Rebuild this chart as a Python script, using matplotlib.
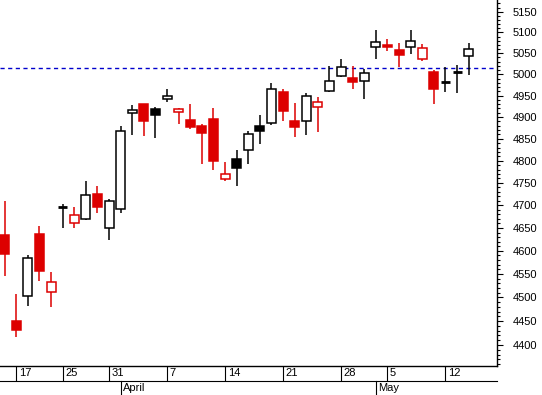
import matplotlib.pyplot as plt
import numpy as np
import pandas as pd
from matplotlib.ticker import NullFormatter

# daily sessions (Mar 14 - May 14)
dates = ['2008-03-14', '2008-03-17', '2008-03-18', '2008-03-19', '2008-03-20',
         '2008-03-25', '2008-03-26', '2008-03-27', '2008-03-28', '2008-03-31',
         '2008-04-01', '2008-04-02', '2008-04-03', '2008-04-04', '2008-04-07',
         '2008-04-08', '2008-04-09', '2008-04-10', '2008-04-11', '2008-04-14',
         '2008-04-15', '2008-04-16', '2008-04-17', '2008-04-18', '2008-04-21',
         '2008-04-22', '2008-04-23', '2008-04-24', '2008-04-25', '2008-04-28',
         '2008-04-29', '2008-04-30', '2008-05-02', '2008-05-05', '2008-05-06',
         '2008-05-07', '2008-05-08', '2008-05-09', '2008-05-12', '2008-05-13',
         '2008-05-14']
opens = [4635, 4450, 4502, 4637, 4511, 4696, 4660, 4669, 4726, 4651,
         4691, 4910, 4930, 4919, 4941, 4912, 4893, 4879, 4896, 4758,
         4804, 4824, 4879, 4886, 4958, 4890, 4892, 4923, 4961, 4995,
         4991, 4983, 5064, 5070, 5058, 5064, 5036, 5005, 4982, 5006, 5043]
highs = [4710, 4507, 4592, 4654, 4554, 4703, 4697, 4755, 4743, 4714,
         4879, 4928, 4930, 4924, 4965, 4920, 4930, 4884, 4921, 4797,
         4824, 4868, 4905, 4980, 4965, 4933, 4955, 4947, 5020, 5036,
         5020, 5012, 5106, 5084, 5074, 5106, 5072, 5010, 5018, 5023, 5074]
lows = [4546, 4417, 4482, 4536, 4480, 4651, 4651, 4668, 4684, 4624,
        4684, 4859, 4857, 4852, 4934, 4883, 4873, 4793, 4780, 4755,
        4744, 4793, 4837, 4882, 4890, 4855, 4858, 4866, 4959, 4993,
        4965, 4941, 5036, 5056, 5017, 5049, 5032, 4931, 4959, 4957, 4999]
closes = [4594, 4432, 4584, 4557, 4533, 4696, 4679, 4722, 4697, 4709,
          4869, 4916, 4892, 4905, 4950, 4919, 4878, 4864, 4800, 4769,
          4784, 4860, 4867, 4965, 4915, 4876, 4948, 4934, 4983, 5018,
          4982, 5002, 5076, 5066, 5046, 5080, 5062, 4966, 4982, 5006, 5061]
prev_close = 4660
ref_level = 5016

y_major = list(range(4400, 5151, 50))
y_minor = list(range(4360, 5180, 10))
day_ticks = ['2008-03-17', '2008-03-25', '2008-03-31', '2008-04-07', '2008-04-14',
             '2008-04-21', '2008-04-28', '2008-05-05', '2008-05-12']
day_labels = ['17', '25', '31', '7', '14', '21', '28', '5', '12']
month_ticks = ['2008-04-01', '2008-05-02']
month_labels = ['April', 'May']

RED = '#dd0000'
plt.rcParams['font.family'] = ['Liberation Sans', 'DejaVu Sans']

fig = plt.figure(figsize=(5.42, 3.95), dpi=100)
H = 366 / 395
ax = fig.add_axes([0, 1 - H, 497 / 542, H])
ax.set_yscale('log')

idx = pd.Index(dates)
x = np.arange(len(dates))
pc = [prev_close] + closes[:-1]
w = 0.78

for i in x:
    o, h, l, c = opens[i], highs[i], lows[i], closes[i]
    col = RED if c < pc[i] else 'black'
    ax.vlines(i, l, h, color=col, lw=1.1, zorder=2)
    if c == o:
        ax.hlines(c, i - w / 2, i + w / 2, color=col, lw=2, zorder=3)
    else:
        face = col if c < o else 'white'
        ax.bar(i, abs(c - o), bottom=min(o, c), width=w, color=face,
               edgecolor=col, linewidth=1.1, zorder=3)

ax.axhline(ref_level, color='#0000cc', lw=1, ls=(0, (3, 2.5)), zorder=1)

ax.set_xlim(-0.405, 42.44)
ax.set_ylim(4356.6, 5178.5)

for s in ['left', 'top']:
    ax.spines[s].set_visible(False)
ax.spines['right'].set_linewidth(1)
ax.spines['bottom'].set_linewidth(1)

ax.yaxis.tick_right()
ax.set_yticks(y_major)
ax.set_yticklabels([str(v) for v in y_major])
ax.set_yticks(y_minor, minor=True)
ax.yaxis.set_minor_formatter(NullFormatter())
ax.tick_params(axis='y', which='major', length=4.5, width=0.8, pad=7, labelsize=8)
ax.tick_params(axis='y', which='minor', length=2.5, width=0.8)

# date rows under the chart
day_pos = [idx.get_loc(d) for d in day_ticks]
ax.set_xticks(day_pos)
ax.set_xticklabels([])
ax.tick_params(axis='x', which='major', length=10.5, width=0.8, direction='out')
ax.xaxis.set_minor_locator(plt.NullLocator())

tr = ax.get_xaxis_transform()
r1 = -15 / 366
r2 = -29 / 366
ax.plot([-0.405, 42.44], [r1, r1], transform=tr, color='black', lw=0.8, clip_on=False)
for p, lab in zip(day_pos, day_labels):
    ax.text(p + 0.22, -7.5 / 366, lab, transform=tr, fontsize=8,
            ha='left', va='center')
for d, lab in zip(month_ticks, month_labels):
    p = idx.get_loc(d)
    ax.plot([p, p], [r1, r2], transform=tr, color='black', lw=0.8, clip_on=False)
    ax.text(p + 0.22, -22 / 366, lab, transform=tr, fontsize=8,
            ha='left', va='center')

fig.savefig('out.png', dpi=100)
